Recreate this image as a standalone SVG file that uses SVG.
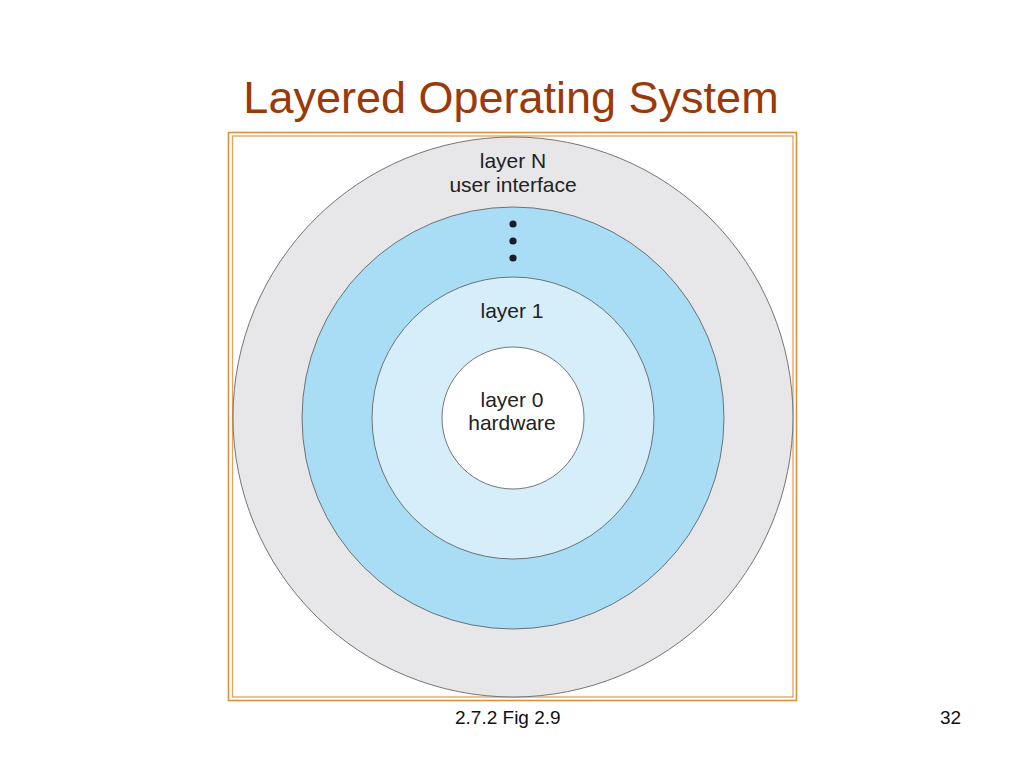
<svg xmlns="http://www.w3.org/2000/svg" width="1024" height="768" viewBox="0 0 1024 768">
<style>
.lbl{font-family:"Liberation Sans",Arial,sans-serif;font-size:21px;fill:#222;text-anchor:middle}
.ring{stroke:#555;stroke-width:0.8}
.foot{font-family:"Liberation Sans",Arial,sans-serif;font-size:19px;fill:#111}
</style>
<rect width="1024" height="768" fill="#fff"/>
<text x="511" y="113" font-family="'Liberation Sans',Arial,sans-serif" font-size="45" fill="#9a3a0a" text-anchor="middle">Layered Operating System</text>
<g id="frame" fill="none">
<rect x="228.5" y="132.5" width="568" height="568" stroke="#d9913f" stroke-width="1.6"/>
<rect x="232.5" y="136" width="560.5" height="561" stroke="#e3a35a" stroke-width="1.3"/>
</g>
<g id="layerN">
<circle class="ring" cx="513" cy="417" r="280" fill="#e7e7ea"/>
<text class="lbl" x="513" y="168">layer N</text>
<text class="lbl" x="513" y="192">user interface</text>
</g>
<g id="layerMid">
<circle class="ring" cx="513" cy="418" r="211" fill="#a9ddf5"/>
<circle cx="513" cy="224" r="3.6" fill="#1a1a2a"/>
<circle cx="513" cy="241" r="3.6" fill="#1a1a2a"/>
<circle cx="513" cy="258" r="3.6" fill="#1a1a2a"/>
</g>
<g id="layer1">
<circle class="ring" cx="513" cy="418" r="141" fill="#d6eefa"/>
<text class="lbl" x="512" y="318">layer 1</text>
</g>
<g id="layer0">
<circle class="ring" cx="513" cy="418" r="71" fill="#fff"/>
<text class="lbl" x="512" y="407">layer 0</text>
<text class="lbl" x="512" y="430">hardware</text>
</g>
<g id="connectors"/>
<text class="foot" x="455" y="724">2.7.2 Fig 2.9</text>
<text class="foot" x="940" y="724">32</text>
</svg>
